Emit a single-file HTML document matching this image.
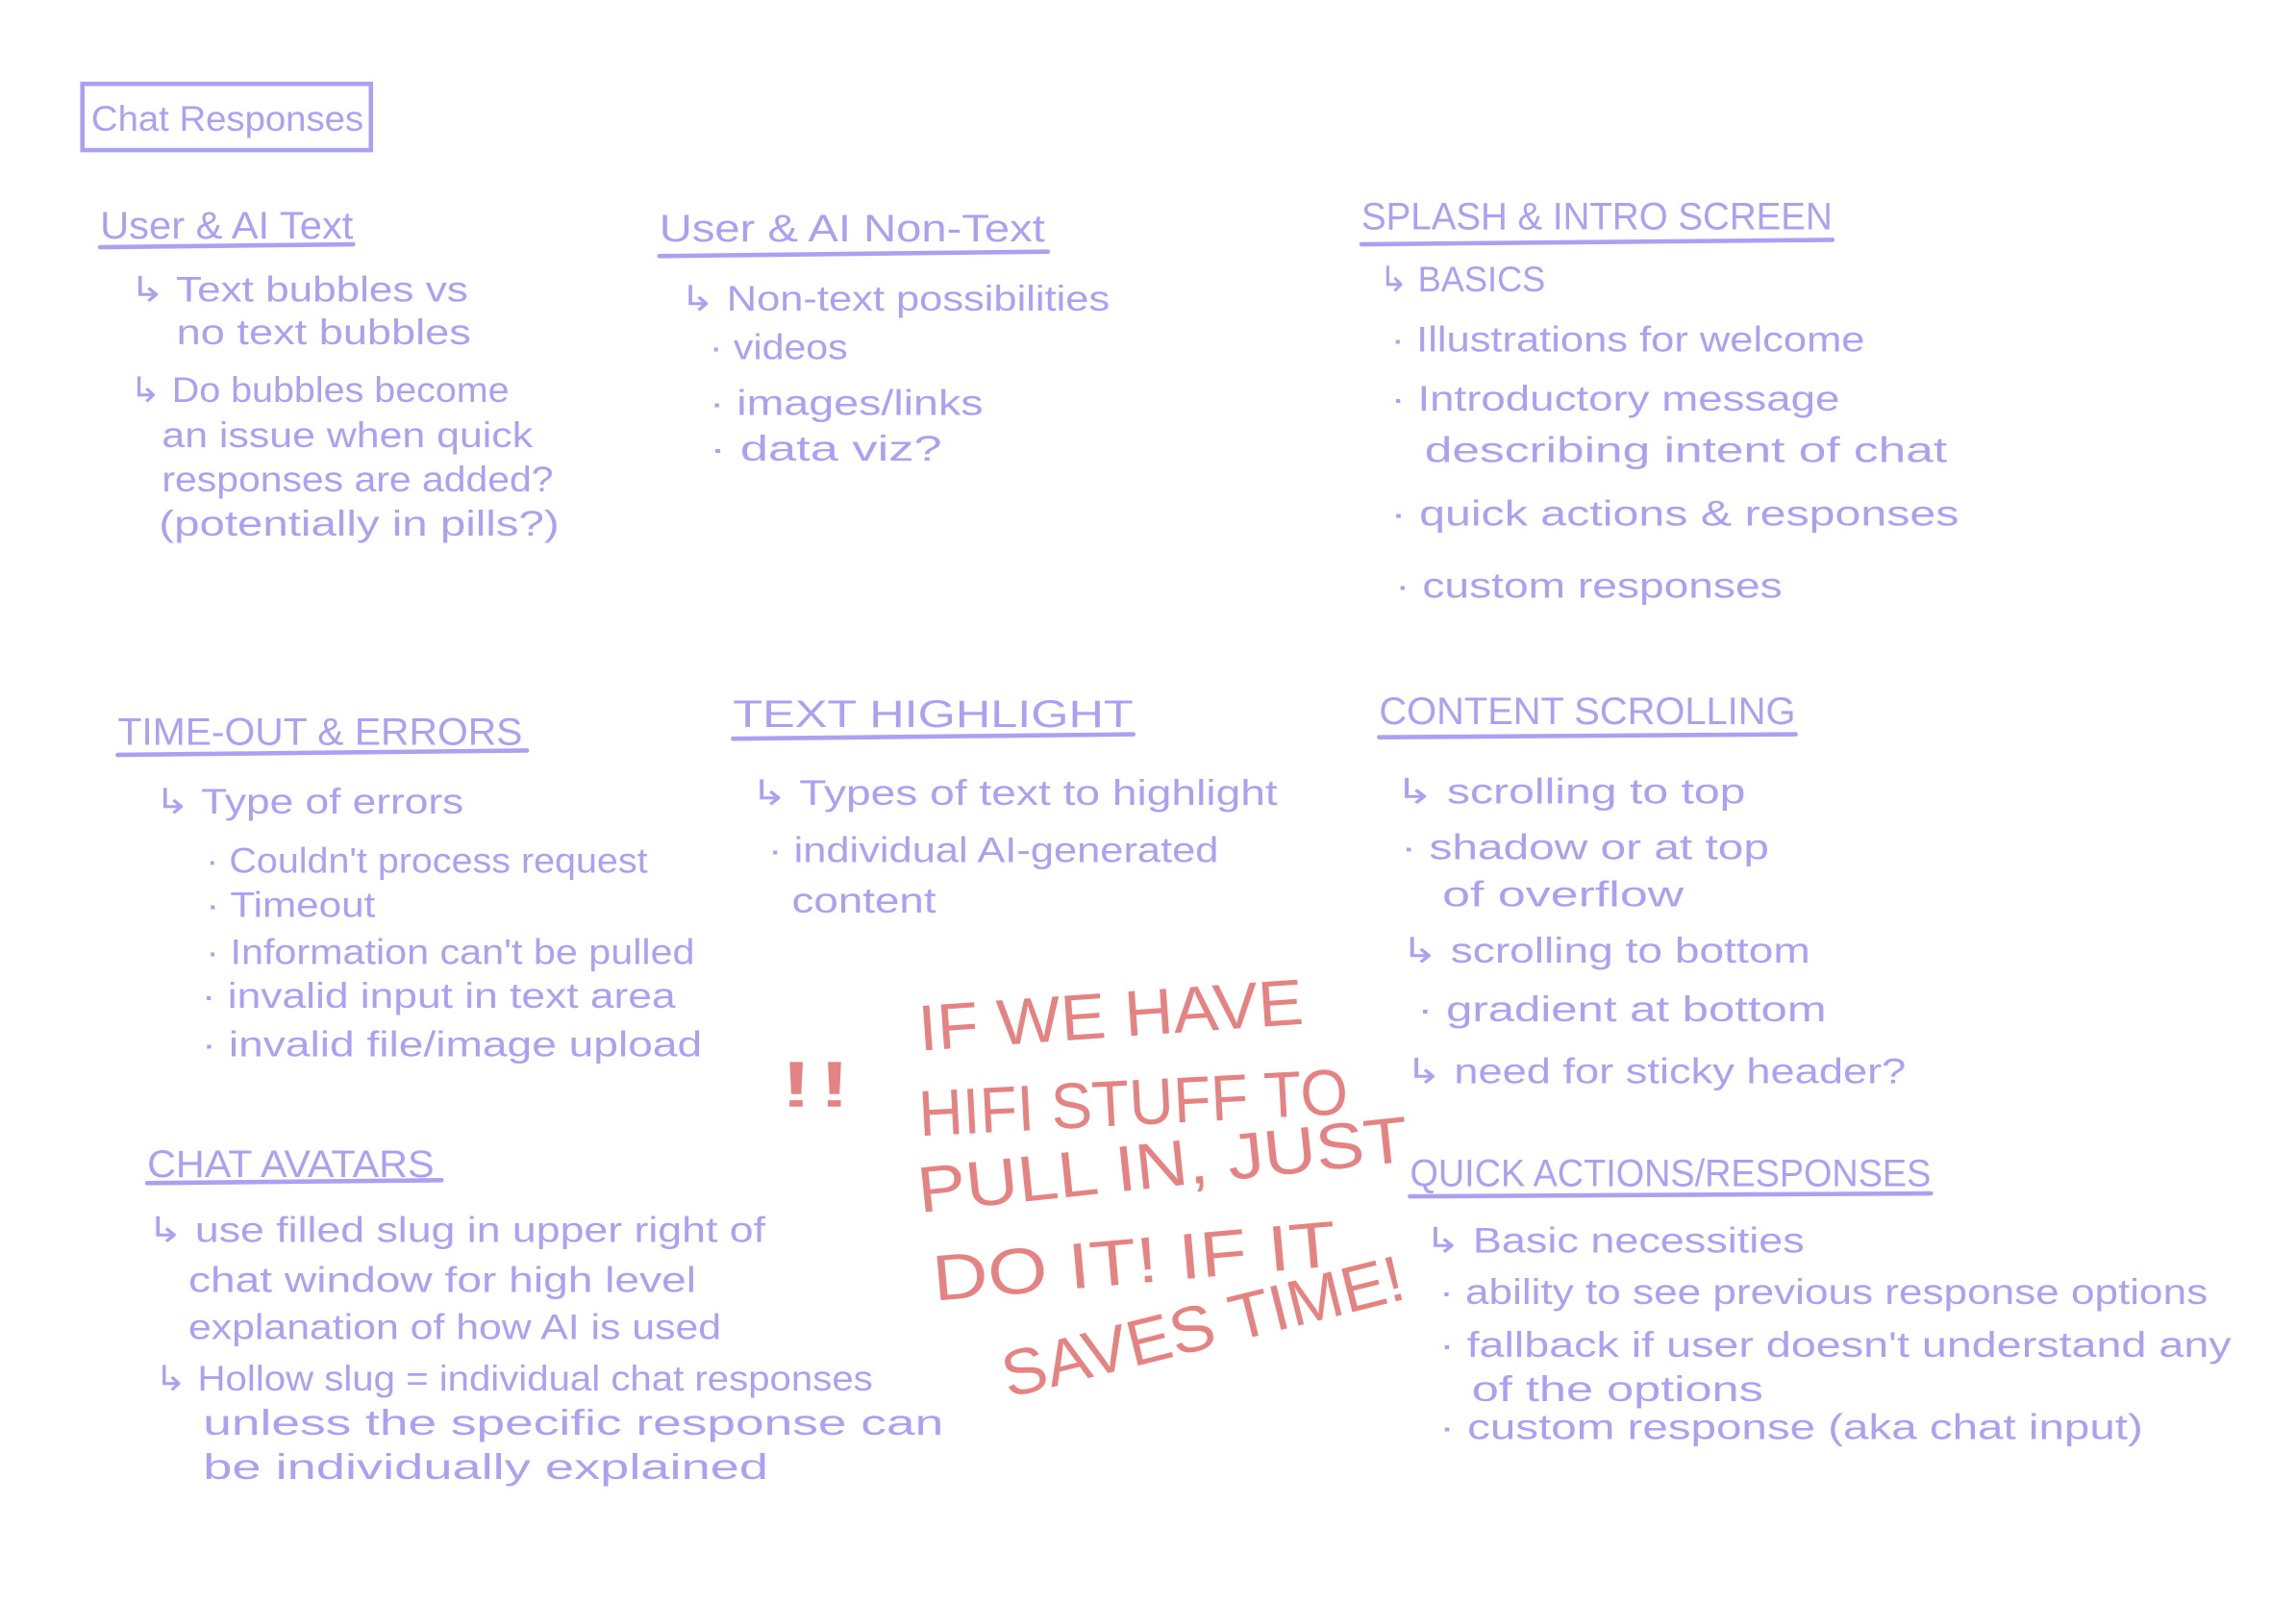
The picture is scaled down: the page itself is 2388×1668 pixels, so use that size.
<!DOCTYPE html>
<html><head><meta charset="utf-8"><style>
html,body{margin:0;padding:0;background:#fff;}
svg{display:block}
text{font-family:"Liberation Sans",sans-serif;}
.p{fill:#aba1f2;font-size:24px;}
.h{fill:#aba1f2;font-size:26px;}
.r{fill:#e58383;font-size:44px;}
line{stroke:#aba1f2;stroke-width:3;stroke-linecap:round}
</style></head><body>
<svg width="2388" height="1668" viewBox="0 0 1560 1090" preserveAspectRatio="none" xmlns="http://www.w3.org/2000/svg">
<rect x="56" y="57" width="196" height="45" fill="none" stroke="#aba1f2" stroke-width="3"/>
<text class="p" x="62" y="89" textLength="185" lengthAdjust="spacingAndGlyphs">Chat Responses</text>

<text class="h" x="68" y="162" textLength="172" lengthAdjust="spacingAndGlyphs">User &amp; AI Text</text>
<line x1="68" y1="168" x2="240" y2="166"/>
<text class="p" x="88" y="205" textLength="230" lengthAdjust="spacingAndGlyphs">↳ Text bubbles vs</text>
<text class="p" x="120" y="234" textLength="200" lengthAdjust="spacingAndGlyphs">no text bubbles</text>
<text class="p" x="88" y="273" textLength="258" lengthAdjust="spacingAndGlyphs">↳ Do bubbles become</text>
<text class="p" x="110" y="304" textLength="252" lengthAdjust="spacingAndGlyphs">an issue when quick</text>
<text class="p" x="110" y="334" textLength="266" lengthAdjust="spacingAndGlyphs">responses are added?</text>
<text class="p" x="108" y="364" textLength="272" lengthAdjust="spacingAndGlyphs">(potentially in pills?)</text>

<text class="h" x="448" y="164" textLength="262" lengthAdjust="spacingAndGlyphs">User &amp; AI Non-Text</text>
<line x1="448" y1="174" x2="712" y2="171"/>
<text class="p" x="462" y="211" textLength="292" lengthAdjust="spacingAndGlyphs">↳ Non-text possibilities</text>
<text class="p" x="482" y="244" textLength="94" lengthAdjust="spacingAndGlyphs">· videos</text>
<text class="p" x="482" y="282" textLength="186" lengthAdjust="spacingAndGlyphs">· images/links</text>
<text class="p" x="482" y="313" textLength="158" lengthAdjust="spacingAndGlyphs">· data viz?</text>

<text class="h" x="925" y="156" textLength="320" lengthAdjust="spacingAndGlyphs">SPLASH &amp; INTRO SCREEN</text>
<line x1="925" y1="166" x2="1245" y2="163"/>
<text class="p" x="937" y="198" textLength="113" lengthAdjust="spacingAndGlyphs">↳ BASICS</text>
<text class="p" x="945" y="239" textLength="322" lengthAdjust="spacingAndGlyphs">· Illustrations for welcome</text>
<text class="p" x="945" y="279" textLength="305" lengthAdjust="spacingAndGlyphs">· Introductory message</text>
<text class="p" x="968" y="314" textLength="355" lengthAdjust="spacingAndGlyphs">describing intent of chat</text>
<text class="p" x="945" y="357" textLength="386" lengthAdjust="spacingAndGlyphs">· quick actions &amp; responses</text>
<text class="p" x="948" y="406" textLength="263" lengthAdjust="spacingAndGlyphs">· custom responses</text>

<text class="h" x="80" y="506" textLength="275" lengthAdjust="spacingAndGlyphs">TIME-OUT &amp; ERRORS</text>
<line x1="80" y1="513" x2="358" y2="510"/>
<text class="p" x="105" y="553" textLength="210" lengthAdjust="spacingAndGlyphs">↳ Type of errors</text>
<text class="p" x="140" y="593" textLength="300" lengthAdjust="spacingAndGlyphs">· Couldn't process request</text>
<text class="p" x="140" y="623" textLength="115" lengthAdjust="spacingAndGlyphs">· Timeout</text>
<text class="p" x="140" y="655" textLength="332" lengthAdjust="spacingAndGlyphs">· Information can't be pulled</text>
<text class="p" x="137" y="685" textLength="322" lengthAdjust="spacingAndGlyphs">· invalid input in text area</text>
<text class="p" x="137" y="718" textLength="340" lengthAdjust="spacingAndGlyphs">· invalid file/image upload</text>

<text class="h" x="498" y="494" textLength="272" lengthAdjust="spacingAndGlyphs">TEXT HIGHLIGHT</text>
<line x1="498" y1="502" x2="770" y2="499"/>
<text class="p" x="510" y="547" textLength="358" lengthAdjust="spacingAndGlyphs">↳ Types of text to highlight</text>
<text class="p" x="522" y="586" textLength="306" lengthAdjust="spacingAndGlyphs">· individual AI-generated</text>
<text class="p" x="538" y="620" textLength="98" lengthAdjust="spacingAndGlyphs">content</text>

<text class="h" x="937" y="492" textLength="283" lengthAdjust="spacingAndGlyphs">CONTENT SCROLLING</text>
<line x1="937" y1="501" x2="1220" y2="499"/>
<text class="p" x="948" y="546" textLength="238" lengthAdjust="spacingAndGlyphs">↳ scrolling to top</text>
<text class="p" x="952" y="584" textLength="250" lengthAdjust="spacingAndGlyphs">· shadow or at top</text>
<text class="p" x="980" y="616" textLength="164" lengthAdjust="spacingAndGlyphs">of overflow</text>
<text class="p" x="952" y="654" textLength="278" lengthAdjust="spacingAndGlyphs">↳ scrolling to bottom</text>
<text class="p" x="963" y="694" textLength="278" lengthAdjust="spacingAndGlyphs">· gradient at bottom</text>
<text class="p" x="955" y="736" textLength="340" lengthAdjust="spacingAndGlyphs">↳ need for sticky header?</text>

<text class="r" x="528" y="752" textLength="52" lengthAdjust="spacingAndGlyphs" font-size="90">!!</text>
<text class="r" x="625" y="714" textLength="262" lengthAdjust="spacingAndGlyphs" transform="rotate(-4 625 714)">IF WE HAVE</text>
<text class="r" x="625" y="772" textLength="292" lengthAdjust="spacingAndGlyphs" transform="rotate(-3 625 772)">HIFI STUFF TO</text>
<text class="r" x="625" y="824" textLength="335" lengthAdjust="spacingAndGlyphs" transform="rotate(-6 625 824)">PULL IN, JUST</text>
<text class="r" x="635" y="884" textLength="275" lengthAdjust="spacingAndGlyphs" transform="rotate(-5 635 884)">DO IT!  IF IT</text>
<text class="r" x="685" y="950" textLength="280" lengthAdjust="spacingAndGlyphs" transform="rotate(-14 685 950)">SAVES TIME!</text>

<text class="h" x="100" y="800" textLength="195" lengthAdjust="spacingAndGlyphs">CHAT AVATARS</text>
<line x1="100" y1="804" x2="300" y2="802"/>
<text class="p" x="100" y="844" textLength="420" lengthAdjust="spacingAndGlyphs">↳ use filled slug in upper right of</text>
<text class="p" x="128" y="878" textLength="345" lengthAdjust="spacingAndGlyphs">chat window for high level</text>
<text class="p" x="128" y="910" textLength="362" lengthAdjust="spacingAndGlyphs">explanation of how AI is used</text>
<text class="p" x="105" y="945" textLength="488" lengthAdjust="spacingAndGlyphs">↳ Hollow slug = individual chat responses</text>
<text class="p" x="138" y="975" textLength="503" lengthAdjust="spacingAndGlyphs">unless the specific response can</text>
<text class="p" x="138" y="1005" textLength="384" lengthAdjust="spacingAndGlyphs">be individually explained</text>

<text class="h" x="958" y="806" textLength="354" lengthAdjust="spacingAndGlyphs">QUICK ACTIONS/RESPONSES</text>
<line x1="958" y1="813" x2="1312" y2="811"/>
<text class="p" x="968" y="851" textLength="258" lengthAdjust="spacingAndGlyphs">↳ Basic necessities</text>
<text class="p" x="978" y="886" textLength="522" lengthAdjust="spacingAndGlyphs">· ability to see previous response options</text>
<text class="p" x="978" y="922" textLength="538" lengthAdjust="spacingAndGlyphs">· fallback if user doesn't understand any</text>
<text class="p" x="1000" y="952" textLength="198" lengthAdjust="spacingAndGlyphs">of the options</text>
<text class="p" x="978" y="978" textLength="478" lengthAdjust="spacingAndGlyphs">· custom response (aka chat input)</text>
</svg>
</body></html>
